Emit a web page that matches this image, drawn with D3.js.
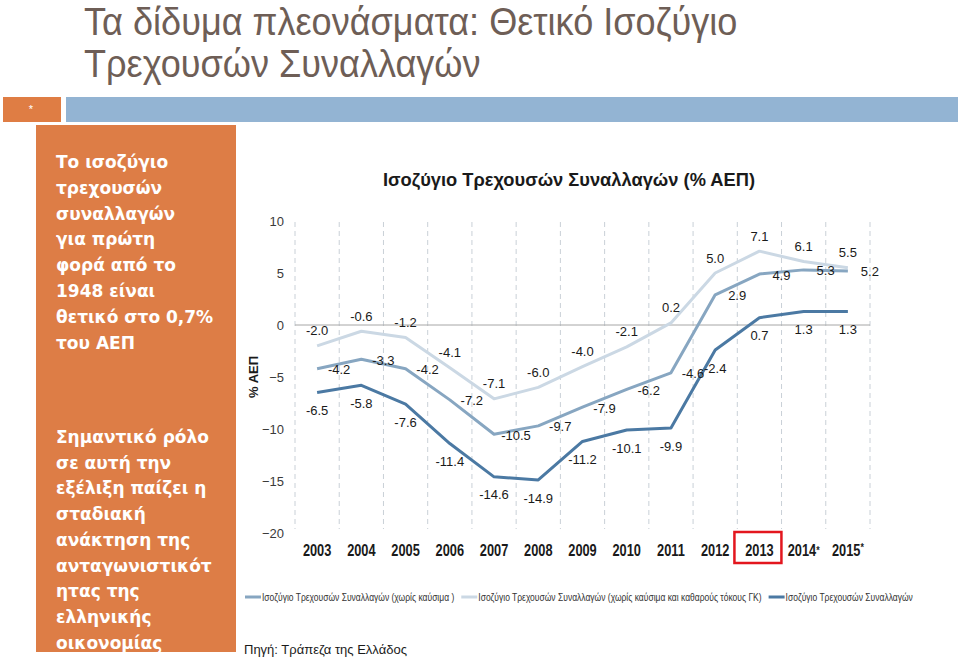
<!DOCTYPE html>
<html>
<head>
<meta charset="utf-8">
<script src="https://cdn.jsdelivr.net/npm/d3@7"></script>
<style>
  html, body { margin: 0; padding: 0; background: #ffffff; }
  svg { display: block; }
</style>
</head>
<body>
<svg id="chart" width="960" height="658"></svg>
<script>
// ---------- data ----------
const years = ["2003","2004","2005","2006","2007","2008","2009","2010","2011","2012","2013","2014","2015"];
const yearMarks = ["","","","","","","","","","","","*","*"];
const highlightYear = "2013";

// Ισοζύγιο Τρεχουσών Συναλλαγών (χωρίς καύσιμα και καθαρούς τόκους ΓΚ)
const balanceExFuelInterest = [-2.0, -0.6, -1.2, -4.1, -7.1, -6.0, -4.0, -2.1, 0.2, 5.0, 7.1, 6.1, 5.5];
// Ισοζύγιο Τρεχουσών Συναλλαγών (χωρίς καύσιμα)
const balanceExFuel = [-4.2, -3.3, -4.2, -7.2, -10.5, -9.7, -7.9, -6.2, -4.6, 2.9, 4.9, 5.3, 5.2];
// Ισοζύγιο Τρεχουσών Συναλλαγών
const balanceTotal = [-6.5, -5.8, -7.6, -11.4, -14.6, -14.9, -11.2, -10.1, -9.9, -2.4, 0.7, 1.3, 1.3];

const yTicks = [-20, -15, -10, -5, 0, 5, 10];

const legendLabels = [
  "Ισοζύγιο Τρεχουσών Συναλλαγών (χωρίς καύσιμα )",
  "Ισοζύγιο Τρεχουσών Συναλλαγών (χωρίς καύσιμα και καθαρούς τόκους ΓΚ)",
  "Ισοζύγιο Τρεχουσών Συναλλαγών"
];

const pageTitle = ["Τα δίδυμα πλεονάσματα: Θετικό Ισοζύγιο", "Τρεχουσών Συναλλαγών"];
const chartTitle = "Ισοζύγιο Τρεχουσών Συναλλαγών (% ΑΕΠ)";
const yAxisTitle = "% ΑΕΠ";
const sourceText = "Πηγή: Τράπεζα της Ελλάδος";
const panelText1 = ["Το ισοζύγιο", "τρεχουσών", "συναλλαγών", "για πρώτη", "φορά από το", "1948 είναι", "θετικό στο 0,7%", "του ΑΕΠ"];
const panelText2 = ["Σημαντικό ρόλο", "σε αυτή την", "εξέλιξη παίζει η", "σταδιακή", "ανάκτηση της", "ανταγωνιστικότ", "ητας  της", "ελληνικής", "οικονομίας"];

// ---------- drawing ----------
const svg = d3.select("#chart");
const sans = "'Liberation Sans', Arial, sans-serif";

// page title (slightly condensed)
pageTitle.forEach((t, i) => {
  svg.append("g").attr("transform", `translate(84,${35 + i * 42}) scale(0.95,1)`)
    .append("text").attr("x", 0).attr("y", 0)
    .attr("font-family", sans).attr("font-size", 38).attr("fill", "#6e5e56").text(t);
});

// header bars
svg.append("rect").attr("x", 3).attr("y", 97).attr("width", 58).attr("height", 25).attr("fill", "#df7d44");
svg.append("text").attr("x", 31).attr("y", 113).attr("text-anchor", "middle")
  .attr("font-family", sans).attr("font-size", 11).attr("fill", "#ffffff").text("*");
svg.append("rect").attr("x", 66).attr("y", 97).attr("width", 892).attr("height", 25).attr("fill", "#93b4d3");

// orange side panel
svg.append("rect").attr("x", 36).attr("y", 125).attr("width", 200).attr("height", 527).attr("fill", "#dd7d46");
const panelFont = "'DejaVu Sans', Verdana, sans-serif";
panelText1.forEach((t, i) => {
  svg.append("text").attr("x", 56).attr("y", 168 + i * 25.8)
    .attr("font-family", panelFont).attr("font-weight", "bold").attr("font-size", 17)
    .attr("fill", "#ffffff").text(t);
});
panelText2.forEach((t, i) => {
  svg.append("text").attr("x", 56).attr("y", 443 + i * 25.7)
    .attr("font-family", panelFont).attr("font-weight", "bold").attr("font-size", 17)
    .attr("fill", "#ffffff").text(t);
});

// scales
const x = d3.scaleBand().domain(years).range([295, 870]).padding(0);
const cx = d => x(d) + x.bandwidth() / 2;
const y = d3.scaleLinear().domain([-20, 10]).range([533, 221]);

// chart title
svg.append("text").attr("x", 569).attr("y", 186).attr("text-anchor", "middle")
  .attr("font-family", sans).attr("font-weight", "bold").attr("font-size", 18.3)
  .attr("fill", "#1a1a1a").text(chartTitle);

// vertical dashed gridlines at band boundaries
const bounds = years.map(d => x(d)).concat([x.range()[1]]);
svg.append("g").selectAll("line").data(bounds).join("line")
  .attr("x1", d => d).attr("x2", d => d)
  .attr("y1", y(10) + 1).attr("y2", y(-20) - 4)
  .attr("stroke", "#c9d0d7").attr("stroke-width", 1).attr("stroke-dasharray", "5,4");

// zero line
svg.append("line").attr("x1", 295).attr("x2", 870).attr("y1", y(0)).attr("y2", y(0))
  .attr("stroke", "#a6a6a6").attr("stroke-width", 1);

// y axis
const yAxis = svg.append("g").attr("transform", "translate(284,0)")
  .call(d3.axisLeft(y).tickValues(yTicks).tickSize(0).tickPadding(0).tickFormat(d3.format("d")));
yAxis.select(".domain").remove();
yAxis.selectAll("text").attr("font-family", sans).attr("font-size", 13).attr("fill", "#3a3a3a");

// y axis title
svg.append("text").attr("transform", "translate(258,377) rotate(-90)")
  .attr("text-anchor", "middle").attr("font-family", sans).attr("font-weight", "bold")
  .attr("font-size", 13).attr("fill", "#1a1a1a").text(yAxisTitle);

// x axis labels (condensed bold)
const xAxis = svg.append("g").attr("transform", "translate(0,545)")
  .call(d3.axisBottom(x).tickSize(0).tickPadding(0));
xAxis.select(".domain").remove();
xAxis.selectAll("text").each(function(d, i) {
  const t = d3.select(this);
  t.text(null).attr("font-family", sans).attr("font-weight", "bold").attr("font-size", 16)
   .attr("fill", "#1a1a1a").attr("dy", "0.35em").attr("y", 5)
   .attr("transform", "scale(0.8,1)");
  t.append("tspan").text(d);
  if (yearMarks[i]) {
    t.append("tspan").attr("font-size", 11).attr("dy", i === years.length - 1 ? "-5" : "-2").text(yearMarks[i]);
  }
});

// highlight box
svg.append("rect")
  .attr("x", cx(highlightYear) - 25).attr("y", 532)
  .attr("width", 47).attr("height", 31)
  .attr("fill", "none").attr("stroke", "#e3161e").attr("stroke-width", 2.5);

// series
const series = [
  { values: balanceExFuelInterest, color: "#cbd8e4", dx: 0, dy: -15 },
  { values: balanceExFuel, color: "#87a6c1", dx: 22, dy: 1 },
  { values: balanceTotal, color: "#4b79a3", dx: 0, dy: 18 }
];
const line = d3.line().x((v, i) => cx(years[i])).y(v => y(v));
series.forEach(s => {
  svg.append("path").datum(s.values).attr("d", line)
    .attr("fill", "none").attr("stroke", s.color).attr("stroke-width", 3)
    .attr("stroke-linejoin", "round");
});
series.forEach(s => {
  svg.append("g").selectAll("text").data(s.values).join("text")
    .attr("x", (v, i) => cx(years[i]) + s.dx)
    .attr("y", v => y(v) + s.dy)
    .attr("dy", "0.35em").attr("text-anchor", "middle")
    .attr("font-family", sans).attr("font-size", 13).attr("fill", "#1a1a1a")
    .text(v => v.toFixed(1));
});

// legend (condensed text)
const legendColors = [series[1].color, series[0].color, series[2].color];
const squeeze = 0.81;
let lx = 245;
const ly = 597;
legendLabels.forEach((lab, i) => {
  svg.append("line").attr("x1", lx).attr("x2", lx + 16).attr("y1", ly).attr("y2", ly)
    .attr("stroke", legendColors[i]).attr("stroke-width", 3);
  const t = svg.append("g").attr("transform", `translate(${lx + 17},${ly}) scale(${squeeze},1)`)
    .append("text").attr("x", 0).attr("y", 0).attr("dy", "0.35em")
    .attr("font-family", sans).attr("font-size", 10.5).attr("fill", "#333333").text(lab);
  lx = lx + 17 + t.node().getComputedTextLength() * squeeze + 7;
});

// source
svg.append("text").attr("x", 244).attr("y", 654)
  .attr("font-family", sans).attr("font-size", 13).attr("fill", "#1a1a1a").text(sourceText);
</script>
</body>
</html>
